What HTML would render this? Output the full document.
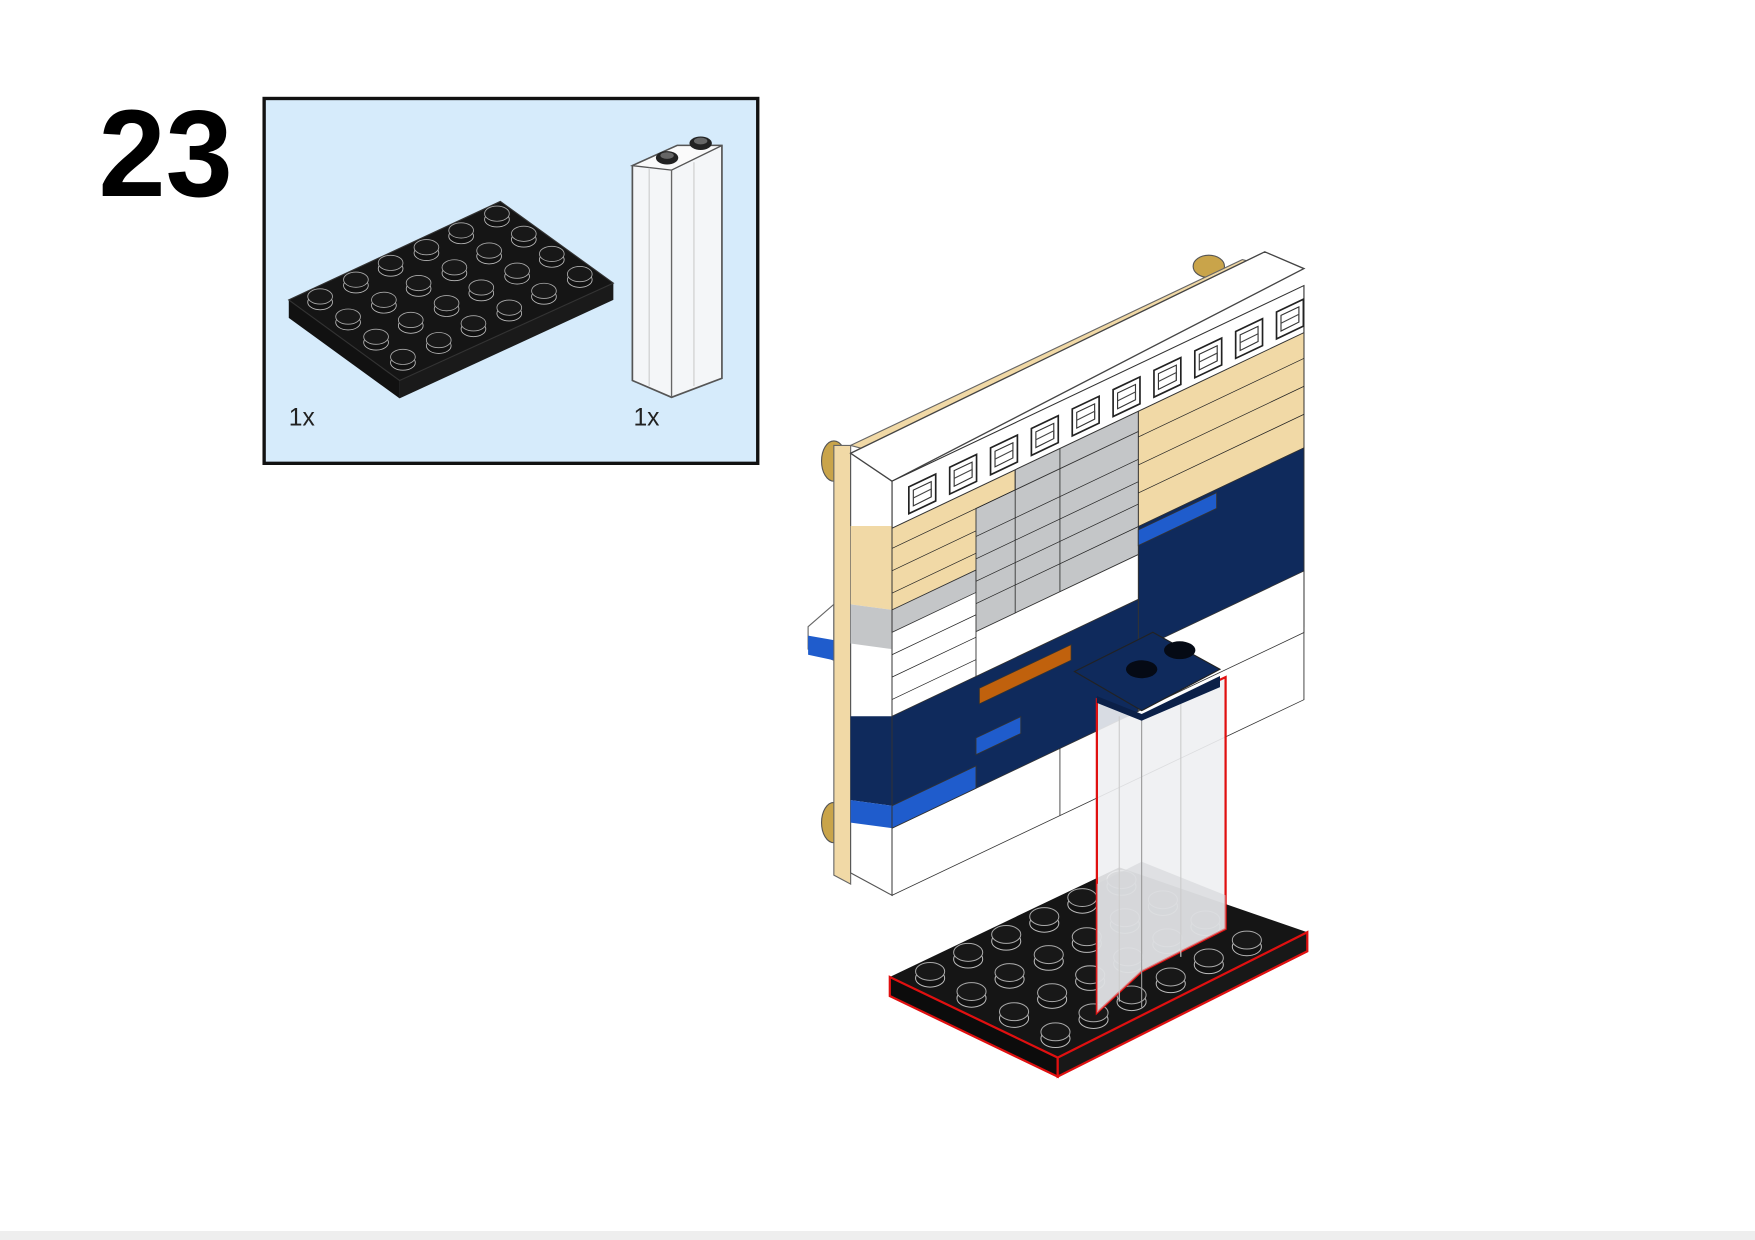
<!DOCTYPE html>
<html><head><meta charset="utf-8"><style>html,body{margin:0;padding:0;background:#fff}svg{display:block}</style></head>
<body>
<svg width="1755" height="1240" viewBox="0 0 1568 1108" preserveAspectRatio="none" xmlns="http://www.w3.org/2000/svg" xmlns:xlink="http://www.w3.org/1999/xlink">
<defs>
<g id="st">
<rect x="-13" y="-6" width="26" height="6" fill="#111"/>
<ellipse cx="0" cy="0" rx="13" ry="8" fill="#111" stroke="#bbb" stroke-width="0.9"/>
<ellipse cx="0" cy="-6" rx="13" ry="8" fill="#181818" stroke="#aaa" stroke-width="0.9"/>
</g>
<g id="w">
<polygon points="0,0 24,-11.4 24,12.6 0,24" fill="#fff" stroke="#222" stroke-width="1.5"/>
<polygon points="4,3 20,-4.6 20,9 4,17" fill="none" stroke="#333" stroke-width="1"/>
<polyline points="4,10 20,2 20,9" fill="none" stroke="#444"/>
</g>
</defs>
<rect width="1568" height="1108" fill="#fff"/>
<rect x="0" y="1100" width="1568" height="8" fill="#eeeeee"/>
<text x="88" y="175" font-family="Liberation Sans, sans-serif" font-weight="bold" font-size="110" fill="#000" transform="translate(88 0) scale(0.98 1) translate(-88 0)">23</text>
<rect x="236" y="88" width="441" height="326" fill="#d6ebfb" stroke="#111" stroke-width="3"/>
<text x="258" y="380" font-family="Liberation Sans, sans-serif" font-size="22" fill="#222">1x</text>
<text x="566" y="380" font-family="Liberation Sans, sans-serif" font-size="22" fill="#222">1x</text>
<!-- box plate -->
<polygon points="258,268 357,340 357,356 258,284" fill="#111"/>
<polygon points="357,340 548,253 548,268 357,356" fill="#1a1a1a"/>
<polygon points="258,268 447,180 548,253 357,340" fill="#151515" stroke="#333" stroke-width="1"/>
<g>
<use xlink:href="#st" transform="translate(286 270) scale(.85)"/><use xlink:href="#st" transform="translate(318 255) scale(.85)"/><use xlink:href="#st" transform="translate(349 240) scale(.85)"/><use xlink:href="#st" transform="translate(381 226) scale(.85)"/><use xlink:href="#st" transform="translate(412 211) scale(.85)"/><use xlink:href="#st" transform="translate(444 196) scale(.85)"/>
<use xlink:href="#st" transform="translate(311 288) scale(.85)"/><use xlink:href="#st" transform="translate(343 273) scale(.85)"/><use xlink:href="#st" transform="translate(374 258) scale(.85)"/><use xlink:href="#st" transform="translate(406 244) scale(.85)"/><use xlink:href="#st" transform="translate(437 229) scale(.85)"/><use xlink:href="#st" transform="translate(468 214) scale(.85)"/>
<use xlink:href="#st" transform="translate(336 306) scale(.85)"/><use xlink:href="#st" transform="translate(367 291) scale(.85)"/><use xlink:href="#st" transform="translate(399 276) scale(.85)"/><use xlink:href="#st" transform="translate(430 262) scale(.85)"/><use xlink:href="#st" transform="translate(462 247) scale(.85)"/><use xlink:href="#st" transform="translate(493 232) scale(.85)"/>
<use xlink:href="#st" transform="translate(360 324) scale(.85)"/><use xlink:href="#st" transform="translate(392 309) scale(.85)"/><use xlink:href="#st" transform="translate(423 294) scale(.85)"/><use xlink:href="#st" transform="translate(455 280) scale(.85)"/><use xlink:href="#st" transform="translate(486 265) scale(.85)"/><use xlink:href="#st" transform="translate(518 250) scale(.85)"/>
</g>
<!-- transparent brick -->
<polygon points="565,148 605,130 645,130 645,338 600,355 565,340" fill="#f4f6f8" stroke="#555" stroke-width="1.5"/>
<polygon points="565,148 605,130 645,130 600,152" fill="#fafafa" stroke="#555" stroke-width="1.2"/>
<line x1="600" y1="152" x2="600" y2="355" stroke="#666" stroke-width="1.2"/>
<line x1="580" y1="150" x2="580" y2="345" stroke="#ccc"/>
<line x1="620" y1="145" x2="620" y2="345" stroke="#ccc"/>
<ellipse cx="596" cy="141" rx="10" ry="6" fill="#222"/><ellipse cx="626" cy="128" rx="10" ry="6" fill="#222"/>
<ellipse cx="596" cy="139" rx="6" ry="3" fill="#666"/><ellipse cx="626" cy="126" rx="6" ry="3" fill="#666"/>

<!-- gold studs -->
<ellipse cx="745" cy="412" rx="11" ry="18" fill="#c9a44a" stroke="#555"/>
<ellipse cx="745" cy="735" rx="11" ry="18" fill="#c9a44a" stroke="#555"/>
<ellipse cx="1080" cy="238" rx="14" ry="10" fill="#c9a44a" stroke="#555"/>
<polygon points="722,560 745,540 745,590 722,580" fill="#fff" stroke="#666"/>
<polygon points="722,568 745,572 745,590 722,585" fill="#1f5ccc"/>
<polygon points="745,398 760,398 760,790 745,782" fill="#f1d9a6" stroke="#666"/>
<polygon points="760,398 1110,232 1125,236 775,402" fill="#f1d9a6" stroke="#666"/>
<!-- left side face -->
<polygon points="760,405 797,430 797,800 760,780" fill="#fff" stroke="#555"/>
<polygon points="760,470 797,470 797,545 760,540" fill="#f1d9a6"/>
<polygon points="760,540 797,545 797,580 760,575" fill="#c4c6c8"/>
<polygon points="760,640 797,640 797,720 760,715" fill="#0f2a5c"/>
<polygon points="760,715 797,720 797,740 760,735" fill="#1f5ccc"/>
<!-- front face -->
<g transform="matrix(1,-0.475,0,1,797,430)" stroke="#333" stroke-width="0.8">
<rect x="0" y="0" width="368" height="370" fill="#fff"/>
<rect x="0" y="40" width="368" height="75" fill="#f1d9a6"/>
<rect x="220" y="40" width="148" height="105" fill="#f1d9a6"/>
<rect x="0" y="115" width="75" height="20" fill="#c4c6c8"/>
<rect x="220" y="145" width="148" height="160" fill="#0f2a5c"/>
<rect x="0" y="210" width="220" height="100" fill="#0f2a5c"/>
<rect x="75" y="60" width="145" height="110" fill="#c4c6c8"/>
<rect x="110" y="40" width="110" height="20" fill="#c4c6c8"/>
<rect x="75" y="170" width="145" height="40" fill="#fff"/>
<rect x="78" y="222" width="82" height="14" fill="#c0610d"/>
<rect x="75" y="265" width="40" height="15" fill="#1f5ccc"/>
<rect x="0" y="290" width="75" height="20" fill="#1f5ccc"/>
<rect x="220" y="148" width="70" height="14" fill="#1f5ccc"/>
<rect x="220" y="255" width="148" height="55" fill="#fff"/>
<g stroke="#222" stroke-width="0.7" fill="none">
<line x1="0" y1="60" x2="110" y2="60"/><line x1="0" y1="80" x2="75" y2="80"/><line x1="0" y1="100" x2="75" y2="100"/>
<line x1="220" y1="65" x2="368" y2="65"/><line x1="220" y1="90" x2="368" y2="90"/><line x1="220" y1="115" x2="368" y2="115"/>
<line x1="75" y1="85" x2="220" y2="85"/><line x1="75" y1="105" x2="220" y2="105"/><line x1="75" y1="125" x2="220" y2="125"/><line x1="75" y1="145" x2="220" y2="145"/>
<line x1="0" y1="155" x2="75" y2="155"/><line x1="0" y1="175" x2="75" y2="175"/><line x1="0" y1="195" x2="75" y2="195"/>
<line x1="110" y1="40" x2="110" y2="170"/><line x1="150" y1="40" x2="150" y2="170"/>
<line x1="150" y1="310" x2="150" y2="370"/>
</g>
</g>
<polygon points="760,405 1130,225 1165,240 797,430" fill="#fff" stroke="#444" stroke-width="1.2"/>
<g transform="matrix(1,-0.475,0,1,797,430)">
<rect x="0" y="0" width="368" height="42" fill="#fff" stroke="#333"/>
</g>
<use xlink:href="#w" x="812" y="435"/><use xlink:href="#w" x="848.5" y="417.5"/><use xlink:href="#w" x="885" y="400.2"/><use xlink:href="#w" x="921.5" y="382.9"/><use xlink:href="#w" x="958" y="365.5"/><use xlink:href="#w" x="994.5" y="348.2"/><use xlink:href="#w" x="1031" y="330.9"/><use xlink:href="#w" x="1067.5" y="313.5"/><use xlink:href="#w" x="1104" y="296.2"/><use xlink:href="#w" x="1140.5" y="278.8"/>
<!-- stand -->
<polygon points="795,873 1000,775 1168,833 945,945" fill="#151515"/>
<polygon points="795,873 945,945 945,962 795,890" fill="#0c0c0c" stroke="#e01010" stroke-width="2"/>
<polygon points="945,945 1168,833 1168,850 945,962" fill="#181818" stroke="#e01010" stroke-width="2"/>
<g>
<use xlink:href="#st" transform="translate(831 874)"/><use xlink:href="#st" transform="translate(865 857)"/><use xlink:href="#st" transform="translate(899 841)"/><use xlink:href="#st" transform="translate(933 825)"/><use xlink:href="#st" transform="translate(967 808)"/><use xlink:href="#st" transform="translate(1002 792)"/>
<use xlink:href="#st" transform="translate(868 892)"/><use xlink:href="#st" transform="translate(902 875)"/><use xlink:href="#st" transform="translate(937 859)"/><use xlink:href="#st" transform="translate(971 843)"/><use xlink:href="#st" transform="translate(1005 826)"/><use xlink:href="#st" transform="translate(1039 810)"/>
<use xlink:href="#st" transform="translate(906 910)"/><use xlink:href="#st" transform="translate(940 893)"/><use xlink:href="#st" transform="translate(974 877)"/><use xlink:href="#st" transform="translate(1008 861)"/><use xlink:href="#st" transform="translate(1043 844)"/><use xlink:href="#st" transform="translate(1077 828)"/>
<use xlink:href="#st" transform="translate(943 928)"/><use xlink:href="#st" transform="translate(977 911)"/><use xlink:href="#st" transform="translate(1011 895)"/><use xlink:href="#st" transform="translate(1046 879)"/><use xlink:href="#st" transform="translate(1080 862)"/><use xlink:href="#st" transform="translate(1114 846)"/>
</g>
<polygon points="980,625 1020,640 1095,605 1095,830 1020,868 980,905" fill="#eef0f2" fill-opacity="0.9" stroke="#e01010" stroke-width="2"/>
<polygon points="980,790 1020,770 1095,800 1095,830 1020,868 980,905" fill="#d4d6d8" fill-opacity="0.6"/>
<line x1="1020" y1="640" x2="1020" y2="900" stroke="#999"/>
<line x1="1000" y1="640" x2="1000" y2="895" stroke="#ccc"/>
<line x1="1055" y1="625" x2="1055" y2="855" stroke="#ccc"/>
<polygon points="960,600 1030,565 1090,598 1020,635" fill="#0f2a5c" stroke="#222"/>
<polygon points="980,622 1020,638 1090,604 1090,614 1020,644 980,628" fill="#0b2048"/>
<ellipse cx="1020" cy="598" rx="14" ry="8" fill="#050a15"/><ellipse cx="1054" cy="581" rx="14" ry="8" fill="#050a15"/>
</svg>
</body></html>
